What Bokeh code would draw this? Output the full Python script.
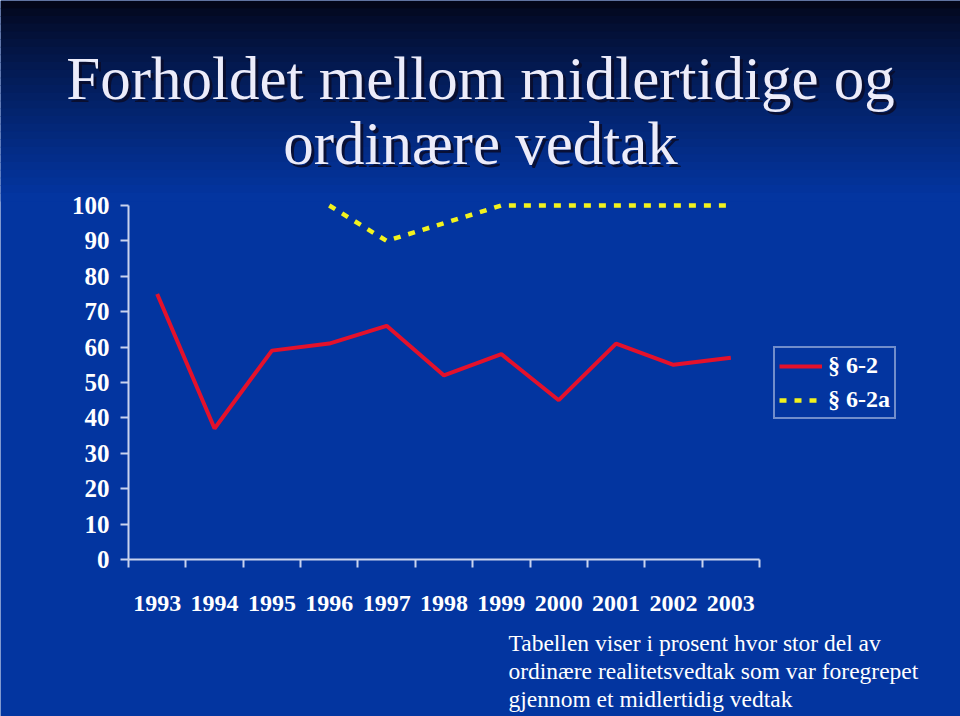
from bokeh.plotting import figure
from bokeh.models import Label, BoxAnnotation, FixedTicker, Legend, LegendItem, Range1d
from bokeh.embed import file_html
from bokeh.resources import INLINE

# ---- data ----
years = [1993, 1994, 1995, 1996, 1997, 1998, 1999, 2000, 2001, 2002, 2003]
year_labels = ["1993", "1994", "1995", "1996", "1997", "1998", "1999", "2000", "2001", "2002", "2003"]
s62 = [75, 37, 59, 61, 66, 52, 58, 45, 61, 55, 57]
years_62a = [1996, 1997, 1998, 1999, 2000, 2001, 2002, 2003]
s62a = [100, 90, 95, 100, 100, 100, 100, 100]
y_ticks = [0, 10, 20, 30, 40, 50, 60, 70, 80, 90, 100]
series_names = ["§ 6-2", "§ 6-2a"]
title_lines = ["Forholdet mellom midlertidige og", "ordinære vedtak"]
note_lines = ["Tabellen viser i prosent hvor stor del av",
              "ordinære realitetsvedtak som var foregrepet",
              "gjennom et midlertidig vedtak"]

# ---- layout (pixels) ----
W, H = 960, 716
PLOT_L, PLOT_R = 128, 759      # x pixels of axis extent
PLOT_T, PLOT_B = 205, 559      # y pixels of 100 and 0
BG = "#0335a0"
SERIF = "Liberation Serif"
AXIS_COL = "#c9d3ee"

x_lo, x_hi = years[0] - 0.5, years[-1] + 0.5
y_lo, y_hi = y_ticks[0], y_ticks[-1]
sx = (PLOT_R - PLOT_L) / (x_hi - x_lo)
sy = (PLOT_B - PLOT_T) / (y_hi - y_lo)
x_range = Range1d(x_lo - PLOT_L / sx, x_hi + (W - PLOT_R) / sx)
y_range = Range1d(y_lo - (H - PLOT_B) / sy, y_hi + PLOT_T / sy)

p = figure(width=W, height=H, output_backend="svg", toolbar_location=None,
           x_range=x_range, y_range=y_range,
           min_border=0, min_border_left=0, min_border_right=0,
           min_border_top=0, min_border_bottom=0)
p.background_fill_color = BG
p.border_fill_color = BG
p.outline_line_color = None
p.grid.visible = False

# background gradient at top (screen units: y from canvas bottom)
top_col = (3, 6, 26)
bot_col = (3, 53, 160)
n_bands = 26
band_h = 200 / n_bands
for i in range(n_bands):
    t = i / (n_bands - 1)
    t2 = t ** 0.8
    c = tuple(int(round(top_col[k] + (bot_col[k] - top_col[k]) * t2)) for k in range(3))
    col = "#%02x%02x%02x" % c
    y0 = i * band_h
    y1 = (i + 1) * band_h + 1
    p.add_layout(BoxAnnotation(left=0, right=W, top=H - y0, bottom=H - y1,
                               left_units="screen", right_units="screen",
                               top_units="screen", bottom_units="screen",
                               fill_color=col, fill_alpha=1.0, line_alpha=0,
                               level="underlay"))

r1 = p.line(years, s62, line_color="#e4112b", line_width=4)
r2 = p.line(years_62a, s62a, line_color="#f2f21e", line_width=4.5, line_dash="7 8")

# axes
yax = p.yaxis[0]
yax.fixed_location = x_lo
yax.ticker = FixedTicker(ticks=y_ticks)
yax.bounds = (y_lo, y_hi)
yax.axis_line_color = AXIS_COL
yax.axis_line_width = 2
yax.major_tick_line_color = AXIS_COL
yax.major_tick_line_width = 2
yax.major_tick_out = 8
yax.major_tick_in = 0
yax.minor_tick_line_color = None
yax.major_label_standoff = 11
yax.major_label_text_font = SERIF
yax.major_label_text_font_style = "bold"
yax.major_label_text_font_size = "25px"
yax.major_label_text_color = "white"

xax = p.xaxis[0]
xax.fixed_location = y_lo
xax.ticker = FixedTicker(ticks=years, minor_ticks=[y - 0.5 for y in years] + [years[-1] + 0.5])
xax.major_label_overrides = {y: l for y, l in zip(years, year_labels)}
xax.bounds = (x_lo, x_hi)
xax.axis_line_color = AXIS_COL
xax.axis_line_width = 2
xax.major_tick_line_color = None
xax.major_tick_out = 0
xax.major_tick_in = 0
xax.minor_tick_line_color = AXIS_COL
xax.minor_tick_line_width = 2
xax.minor_tick_out = 8
xax.minor_tick_in = 0
xax.major_label_standoff = 28
xax.major_label_text_font = SERIF
xax.major_label_text_font_style = "bold"
xax.major_label_text_font_size = "24px"
xax.major_label_text_color = "white"

# legend
legend = Legend(items=[LegendItem(label=series_names[0], renderers=[r1]),
                       LegendItem(label=series_names[1], renderers=[r2])],
                location=(773, H - 419),
                border_line_color="#e0e6f5", border_line_width=2,
                background_fill_alpha=0,
                glyph_width=43, glyph_height=24, label_height=24,
                label_standoff=6, spacing=7, padding=4, margin=0,
                label_text_font=SERIF, label_text_font_style="bold",
                label_text_font_size="24px", label_text_color="white")
p.add_layout(legend, "center")

# title with shadow
title_base = [78, 143]
for line, by in zip(title_lines, title_base):
    p.add_layout(Label(x=480 + 3, y=H - by - 3, x_units="screen", y_units="screen",
                       text=line, text_font=SERIF, text_font_size="61px",
                       text_color="#0a0c28", text_alpha=0.85,
                       text_align="center", text_baseline="alphabetic"))
    p.add_layout(Label(x=480, y=H - by, x_units="screen", y_units="screen",
                       text=line, text_font=SERIF, text_font_size="61px",
                       text_color="#ececfa",
                       text_align="center", text_baseline="alphabetic"))

# footnote
note_base = [642, 670, 698]
for line, by in zip(note_lines, note_base):
    p.add_layout(Label(x=508, y=H - by, x_units="screen", y_units="screen",
                       text=line, text_font=SERIF, text_font_size="23.5px",
                       text_color="white", text_align="left", text_baseline="alphabetic"))

open("out.html", "w").write(file_html(p, INLINE))
